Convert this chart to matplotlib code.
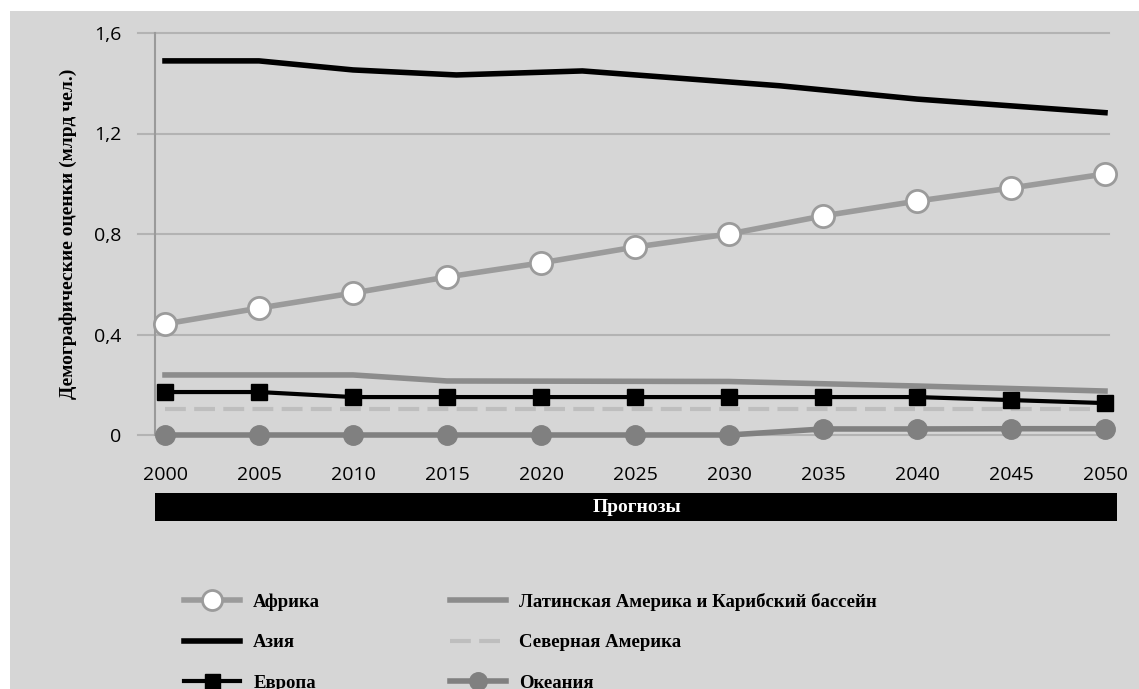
import numpy as np
import matplotlib
matplotlib.use("Agg")
import matplotlib.pyplot as plt
from matplotlib.patches import Rectangle

years = [2000, 2005, 2010, 2015, 2020, 2025, 2030, 2035, 2040, 2045, 2050]

africa = [0.442, 0.505, 0.565, 0.629, 0.685, 0.748, 0.800, 0.872, 0.931, 0.983, 1.039]
europe = [0.171, 0.171, 0.151, 0.151, 0.151, 0.151, 0.151, 0.151, 0.151, 0.139, 0.127]
north_america = [0.103] * 11
oceania = [0.0, 0.0, 0.0, 0.0, 0.0, 0.0, 0.0, 0.024, 0.024, 0.025, 0.025]

# Asia and Latin America have their bends off the 5-year marks
asia_years = [2000, 2005, 2010, 2015.5, 2022.2, 2032.7, 2040, 2050]
asia = [1.489, 1.489, 1.453, 1.433, 1.449, 1.390, 1.337, 1.283]
latam_years = [2000, 2010, 2015, 2030, 2040, 2050]
latam = [0.239, 0.239, 0.215, 0.213, 0.195, 0.175]

labels = ["Африка", "Азия", "Европа",
          "Латинская Америка и Карибский бассейн", "Северная Америка", "Океания"]

bg = "#d6d6d6"
serif = "Liberation Serif"
sans = "Open Sans"

fig = plt.figure(figsize=(11.39, 6.89), dpi=100)
fig.patch.set_facecolor("white")
fig.add_artist(Rectangle((10 / 1139, 0), 1, 1 - 11 / 689, transform=fig.transFigure,
                         facecolor=bg, edgecolor="none", zorder=-10))

ax = fig.add_axes([138 / 1139, (689 - 435) / 689, 971 / 1139, 402 / 689])
ax.set_facecolor("none")
x_left = 2000 - 27 / 18.8
x_right = 2050 + 4 / 18.8
ax.set_xlim(x_left, x_right)
ax.set_ylim(0, 1.6)
for s in ax.spines.values():
    s.set_visible(False)

yt = [0, 0.4, 0.8, 1.2, 1.6]
for v in yt:
    ax.axhline(v, color="#b3b3b3", lw=1.5, zorder=1, clip_on=False)
ax.plot([2000 - 10 / 18.8] * 2, [0, 1.6], color="#9a9a9a", lw=1.5, zorder=1, clip_on=False)

ax.set_yticks(yt)
ax.set_yticklabels(["0", "0,4", "0,8", "1,2", "1,6"], fontsize=14, family=sans)
ax.set_xticks(years)
ax.set_xticklabels([str(y) for y in years], fontsize=14, family=sans)
ax.tick_params(axis="y", length=0, pad=12)
ax.tick_params(axis="x", length=0, pad=22)
ax.set_ylabel("Демографические оценки (млрд чел.)", family=serif, fontweight="bold",
              fontsize=14, labelpad=12)

h_af, = ax.plot(years, africa, color="#9b9b9b", lw=4, marker="o", ms=16,
                mfc="white", mec="#9b9b9b", mew=2, zorder=5, clip_on=False)
h_as, = ax.plot(asia_years, asia, color="black", lw=4, zorder=4, clip_on=False)
h_eu, = ax.plot(years, europe, color="black", lw=3, marker="s", ms=12,
                zorder=4, clip_on=False)
h_la, = ax.plot(latam_years, latam, color="#8c8c8c", lw=4, zorder=3, clip_on=False)
h_na, = ax.plot(years, north_america, color="#bebebe", lw=3, dashes=(5, 2),
                zorder=2, clip_on=False)
h_oc, = ax.plot(years, oceania, color="#808080", lw=4, marker="o", ms=14,
                zorder=3, clip_on=False)

# black "Прогнозы" bar under the axis
fig.add_artist(Rectangle((155 / 1139, (689 - 521) / 689), 962 / 1139, 28 / 689,
                         transform=fig.transFigure, facecolor="black", edgecolor="none"))
fig.text(637 / 1139, (689 - 507) / 689, "Прогнозы", color="white", family=serif,
         fontweight="bold", fontsize=14, ha="center", va="center")

# legend sits low, its last row runs off the bottom edge as in the original
leg = fig.legend([h_af, h_as, h_eu, h_la, h_na, h_oc], labels, ncol=2,
                 loc="upper left", bbox_to_anchor=(167 / 1139, (689 - 576) / 689),
                 frameon=False, prop={"family": serif, "weight": "bold", "size": 13.5},
                 handlelength=3.0, handletextpad=0.7, labelspacing=1.25,
                 columnspacing=6.9, markerscale=0.9)

fig.savefig("out.png", dpi=100, facecolor="white")
